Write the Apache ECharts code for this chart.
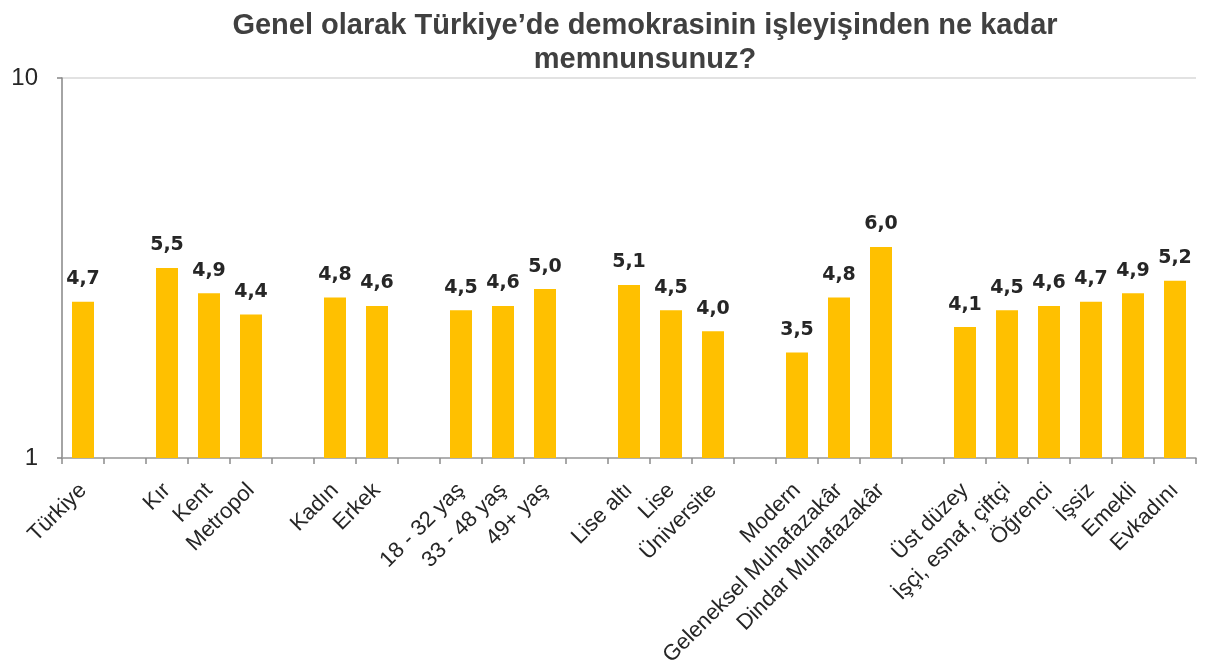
<!DOCTYPE html>
<html>
<head>
<meta charset="utf-8">
<script src="https://cdn.jsdelivr.net/npm/echarts@6/dist/echarts.min.js"></script>
<style>
  html, body { margin: 0; padding: 0; background: #fff; }
  #container { width: 1211px; height: 671px; }
</style>
</head>
<body>
<div id="container"></div>
<script>
// kategoriler (boş olanlar gruplar arası boşluk)
var categories = ['Türkiye', ' ', 'Kır', 'Kent', 'Metropol', '  ', 'Kadın', 'Erkek', '   ',
    '18 - 32 yaş', '33 - 48 yaş', '49+ yaş', '    ', 'Lise altı', 'Lise', 'Üniversite', '     ',
    'Modern', 'Geleneksel Muhafazakâr', 'Dindar Muhafazakâr', '      ',
    'Üst düzey', 'İşçi, esnaf, çiftçi', 'Öğrenci', 'İşsiz', 'Emekli', 'Evkadını'];

var values = [4.7, null, 5.5, 4.9, 4.4, null, 4.8, 4.6, null,
    4.5, 4.6, 5.0, null, 5.1, 4.5, 4.0, null,
    3.5, 4.8, 6.0, null,
    4.1, 4.5, 4.6, 4.7, 4.9, 5.2];

var yTicks = [1, 10];

var titleText = 'Genel olarak Türkiye’de demokrasinin işleyişinden ne kadar\nmemnunsunuz?';

var option = {
    animation: false,
    title: {
        text: titleText,
        left: 640,
        top: 4,
        textAlign: 'center',
        textStyle: {
            fontFamily: '"Liberation Sans", Arial, sans-serif',
            fontWeight: 'bold',
            fontSize: 29,
            lineHeight: 34,
            color: '#404040'
        }
    },
    grid: {
        left: 62,
        right: 15,
        top: 78,
        bottom: 213
    },
    xAxis: {
        type: 'category',
        data: categories,
        axisLine: { lineStyle: { color: '#a0a0a0', width: 1.5 } },
        axisTick: { show: true, length: 6, lineStyle: { color: '#8c8c8c', width: 1.5 } },
        axisLabel: {
            interval: 0,
            rotate: 45,
            margin: 29,
            fontFamily: '"Liberation Sans", Arial, sans-serif',
            fontSize: 22,
            color: '#262626'
        }
    },
    yAxis: {
        type: 'value',
        min: yTicks[0],
        max: yTicks[1],
        interval: yTicks[1] - yTicks[0],
        axisLine: { show: true, lineStyle: { color: '#868686', width: 1.5 } },
        axisTick: { show: true, length: 5, lineStyle: { color: '#868686', width: 1.5 } },
        axisLabel: {
            margin: 24,
            fontFamily: '"Liberation Sans", Arial, sans-serif',
            fontSize: 24,
            color: '#262626'
        },
        splitLine: { show: true, lineStyle: { color: '#d9d9d9', width: 1.5 } }
    },
    series: [{
        type: 'bar',
        data: values,
        barWidth: 22,
        itemStyle: { color: '#FFC000' },
        label: {
            show: true,
            position: 'top',
            distance: 13,
            fontFamily: '"DejaVu Sans", sans-serif',
            fontWeight: 'bold',
            fontSize: 19,
            color: '#262626',
            formatter: function (p) {
                return p.value.toFixed(1).replace('.', ',');
            }
        }
    }]
};

var myChart = echarts.init(document.getElementById('container'));
myChart.setOption(option);
</script>
</body>
</html>
